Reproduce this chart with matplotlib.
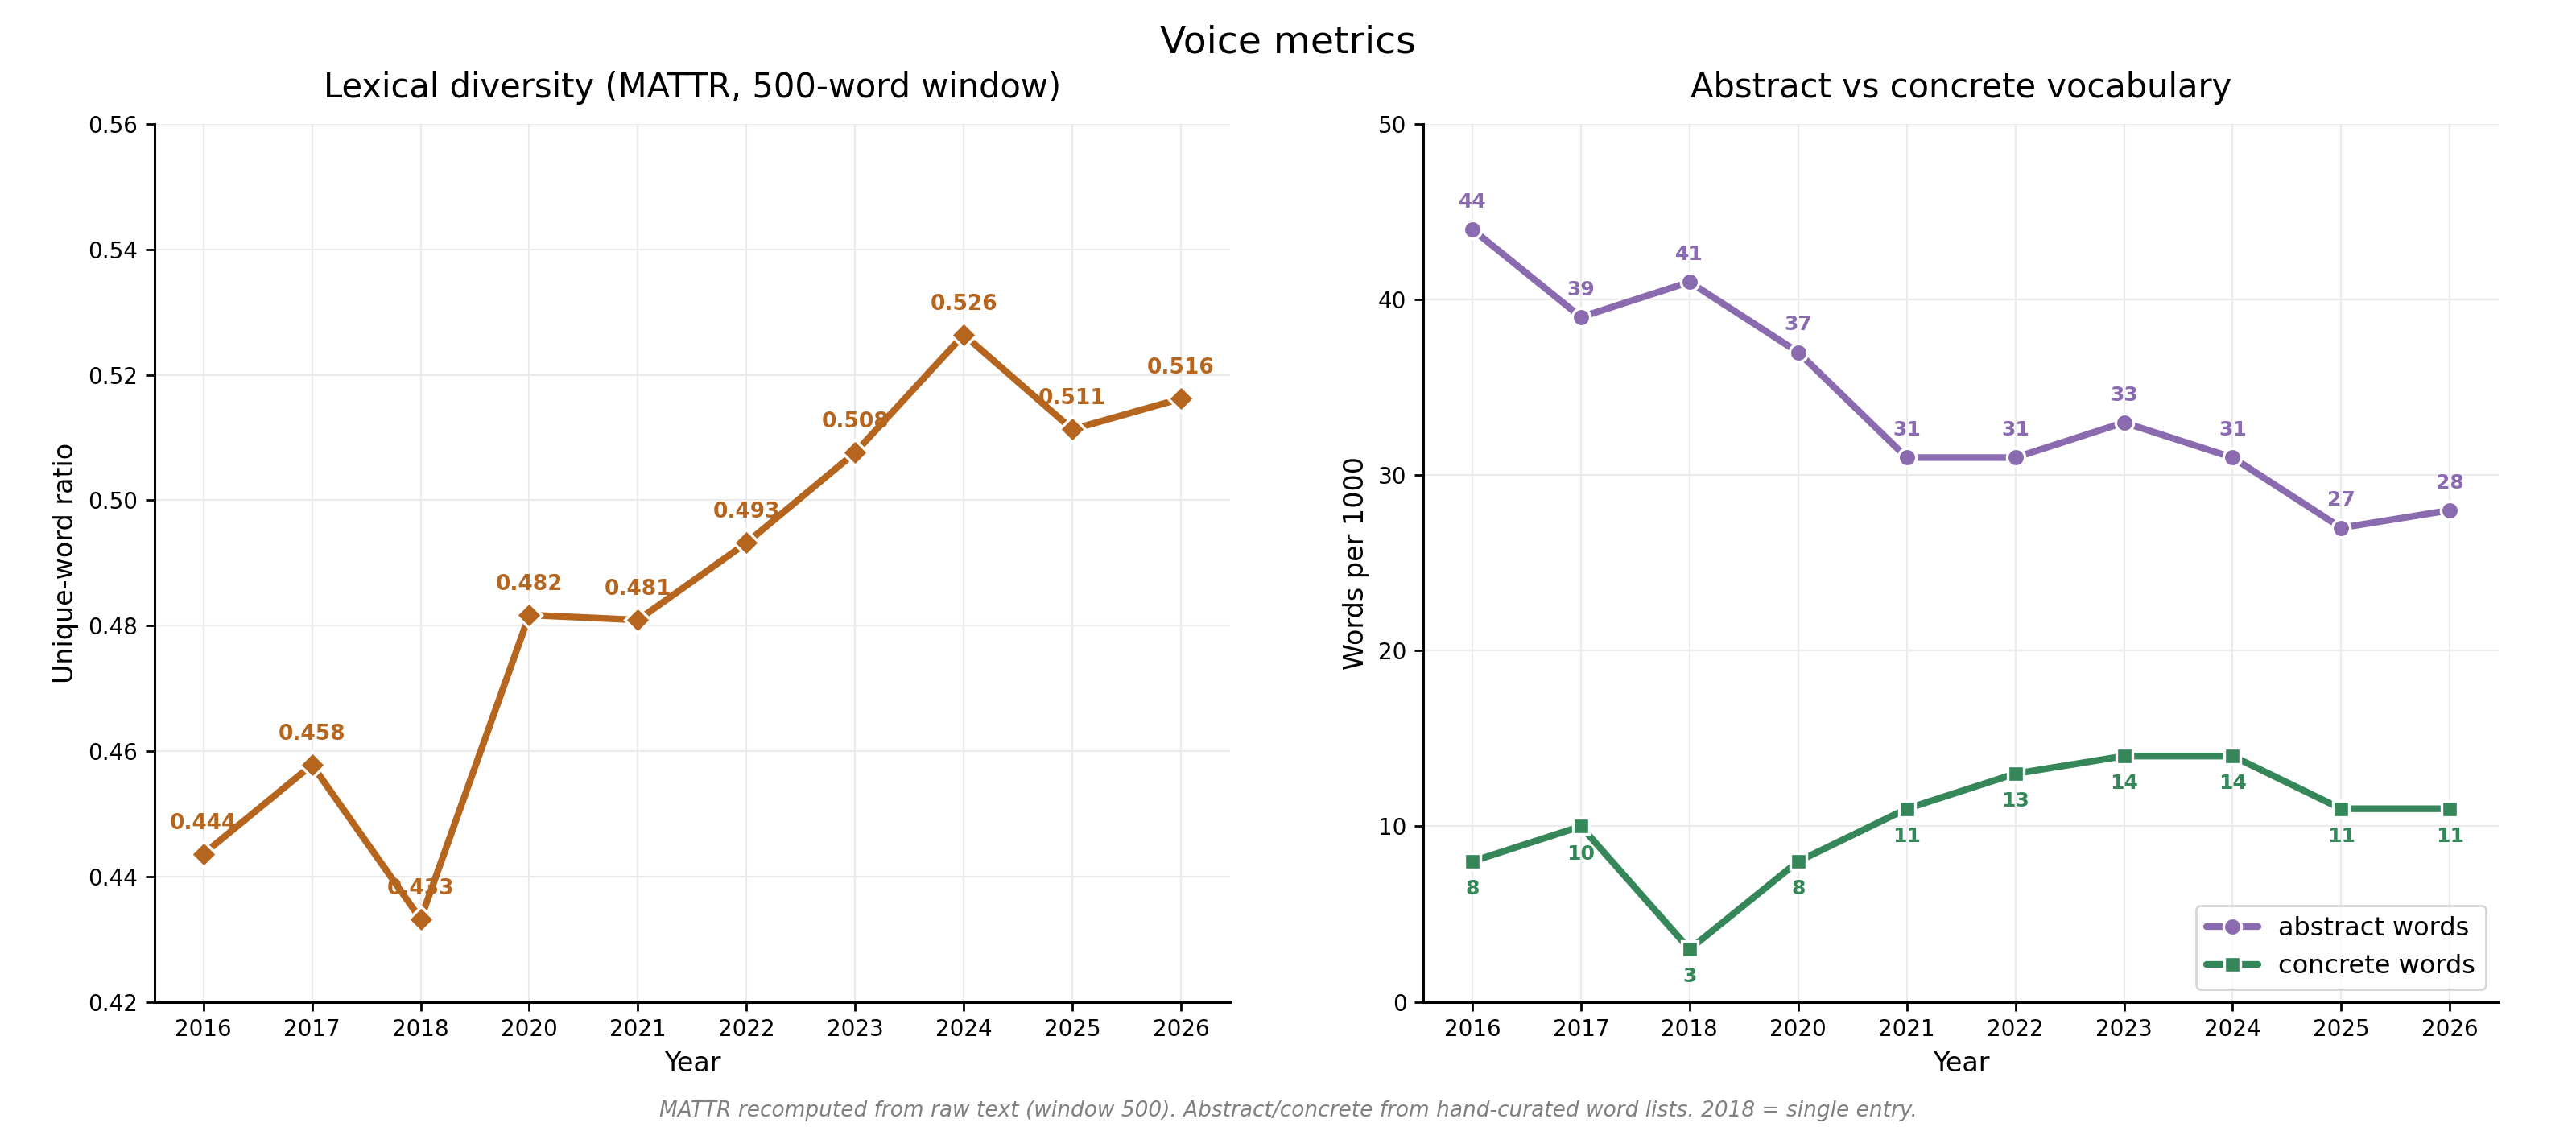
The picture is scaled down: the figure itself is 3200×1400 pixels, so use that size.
import matplotlib
matplotlib.use("Agg")
import matplotlib.pyplot as plt
import seaborn as sns

years = ["2016", "2017", "2018", "2020", "2021", "2022", "2023", "2024", "2025", "2026"]
mattr = [0.4436, 0.4578, 0.4332, 0.4817, 0.4809, 0.4932, 0.5076, 0.5264, 0.5113, 0.5162]
abstract_words = [44, 39, 41, 37, 31, 31, 33, 31, 27, 28]
concrete_words = [8, 10, 3, 8, 11, 13, 14, 14, 11, 11]

ORANGE = "#b5651d"
PURPLE = "#8a6bb0"
GREEN = "#35875a"

sns.set_style("whitegrid", {"grid.color": "#ebebeb", "axes.edgecolor": "black",
                            "text.color": "black", "axes.labelcolor": "black",
                            "xtick.color": "black", "ytick.color": "black"})
plt.rcParams["font.family"] = ["DejaVu Sans"]

fig, (ax1, ax2) = plt.subplots(1, 2, figsize=(16, 7), dpi=200)
fig.subplots_adjust(left=0.06, right=0.970, bottom=0.111, top=0.890, wspace=0.18)

x = list(range(len(years)))

# left: lexical diversity
ax1.plot(x, mattr, color=ORANGE, lw=3, marker="D", ms=8, mec="white", mew=1.2)
for xi, v in zip(x, mattr):
    ax1.annotate(f"{v:.3f}", (xi, v), xytext=(0, 9), textcoords="offset points",
                 ha="center", va="bottom", fontsize=9.5, fontweight="bold", color=ORANGE)
ax1.set_ylim(0.42, 0.56)
ax1.set_yticks([0.42, 0.44, 0.46, 0.48, 0.50, 0.52, 0.54, 0.56])
ax1.set_title("Lexical diversity (MATTR, 500-word window)", fontsize=15, pad=12)
ax1.set_ylabel("Unique-word ratio", fontsize=12)

# right: abstract vs concrete
ax2.plot(x, abstract_words, color=PURPLE, lw=3, marker="o", ms=8, mec="white", mew=1.2,
         label="abstract words")
ax2.plot(x, concrete_words, color=GREEN, lw=3, marker="s", ms=7.5, mec="white", mew=1.2,
         label="concrete words")
for xi, v in zip(x, abstract_words):
    ax2.annotate(str(v), (xi, v), xytext=(0, 8), textcoords="offset points",
                 ha="center", va="bottom", fontsize=9, fontweight="bold", color=PURPLE)
for xi, v in zip(x, concrete_words):
    ax2.annotate(str(v), (xi, v), xytext=(0, -8), textcoords="offset points",
                 ha="center", va="top", fontsize=9, fontweight="bold", color=GREEN)
ax2.set_ylim(0, 50)
ax2.set_yticks([0, 10, 20, 30, 40, 50])
ax2.set_title("Abstract vs concrete vocabulary", fontsize=15, pad=12)
ax2.set_ylabel("Words per 1000", fontsize=12)
ax2.legend(loc="lower right", fontsize=11.5, frameon=True)

for ax in (ax1, ax2):
    ax.set_xticks(x)
    ax.set_xticklabels(years)
    ax.set_xlim(-0.45, len(years) - 0.55)
    ax.set_xlabel("Year", fontsize=12)
    ax.tick_params(axis="both", labelsize=10, left=True, bottom=True, length=4, width=1,
                   colors="black")
    sns.despine(ax=ax)
    for s in ("left", "bottom"):
        ax.spines[s].set_linewidth(1.1)

fig.suptitle("Voice metrics", fontsize=17, y=0.978)
fig.text(0.5, 0.005,
         "MATTR recomputed from raw text (window 500). Abstract/concrete from hand-curated word lists. 2018 = single entry.",
         ha="center", va="bottom", fontsize=9.5, style="italic", color="gray")

fig.savefig("out.png", dpi=200)
